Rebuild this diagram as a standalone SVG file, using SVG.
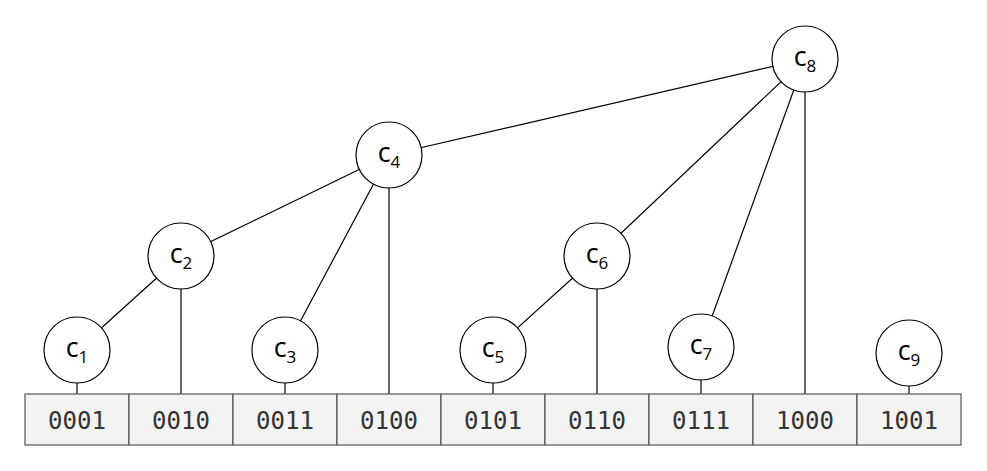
<svg xmlns="http://www.w3.org/2000/svg" width="987" height="471" viewBox="0 0 987 471">
  <style>
    .edge { stroke: #000; stroke-width: 1.2; fill: none; }
    .node circle { fill: #fff; stroke: #000; stroke-width: 1.2; }
    .node text { font-family: "Open Sans", "DejaVu Sans", sans-serif; font-size: 27px; fill: #000; text-anchor: middle; }
    .node .sub { font-size: 17px; }
    .cell rect { fill: #f3f3f3; stroke: #555; stroke-width: 1.2; }
    .cell text { font-family: "DejaVu Sans Mono", "Liberation Mono", monospace; font-size: 24px; fill: #333; text-anchor: middle; }
  </style>
  <rect width="987" height="471" fill="#fff"/>

  <!-- tree edges and links down to the array cells -->
  <g id="connectors">
    <line class="edge" x1="77" y1="350" x2="181" y2="256"/>
    <line class="edge" x1="181" y1="256" x2="389" y2="155"/>
    <line class="edge" x1="285" y1="350" x2="389" y2="155"/>
    <line class="edge" x1="389" y1="155" x2="805" y2="59"/>
    <line class="edge" x1="493" y1="350" x2="597" y2="256"/>
    <line class="edge" x1="597" y1="256" x2="805" y2="59"/>
    <line class="edge" x1="701" y1="347" x2="805" y2="59"/>
    <line class="edge" x1="77" y1="350" x2="77" y2="394"/>
    <line class="edge" x1="181" y1="256" x2="181" y2="394"/>
    <line class="edge" x1="285" y1="350" x2="285" y2="394"/>
    <line class="edge" x1="389" y1="155" x2="389" y2="394"/>
    <line class="edge" x1="493" y1="350" x2="493" y2="394"/>
    <line class="edge" x1="597" y1="256" x2="597" y2="394"/>
    <line class="edge" x1="701" y1="347" x2="701" y2="394"/>
    <line class="edge" x1="805" y1="59" x2="805" y2="394"/>
    <line class="edge" x1="909" y1="353" x2="909" y2="394"/>
  </g>

  <!-- array cells -->
  <g id="cell1" class="cell"><rect x="25" y="394" width="104" height="51"/><text x="77" y="429">0001</text></g>
  <g id="cell2" class="cell"><rect x="129" y="394" width="104" height="51"/><text x="181" y="429">0010</text></g>
  <g id="cell3" class="cell"><rect x="233" y="394" width="104" height="51"/><text x="285" y="429">0011</text></g>
  <g id="cell4" class="cell"><rect x="337" y="394" width="104" height="51"/><text x="389" y="429">0100</text></g>
  <g id="cell5" class="cell"><rect x="441" y="394" width="104" height="51"/><text x="493" y="429">0101</text></g>
  <g id="cell6" class="cell"><rect x="545" y="394" width="104" height="51"/><text x="597" y="429">0110</text></g>
  <g id="cell7" class="cell"><rect x="649" y="394" width="104" height="51"/><text x="701" y="429">0111</text></g>
  <g id="cell8" class="cell"><rect x="753" y="394" width="104" height="51"/><text x="805" y="429">1000</text></g>
  <g id="cell9" class="cell"><rect x="857" y="394" width="104" height="51"/><text x="909" y="429">1001</text></g>

  <!-- tree nodes -->
  <g id="c1" class="node"><circle cx="77" cy="350" r="33"/><text x="77" y="357">c<tspan class="sub" dy="6">1</tspan></text></g>
  <g id="c2" class="node"><circle cx="181" cy="256" r="33"/><text x="181" y="263">c<tspan class="sub" dy="6">2</tspan></text></g>
  <g id="c3" class="node"><circle cx="285" cy="350" r="33"/><text x="285" y="357">c<tspan class="sub" dy="6">3</tspan></text></g>
  <g id="c4" class="node"><circle cx="389" cy="155" r="33"/><text x="389" y="162">c<tspan class="sub" dy="6">4</tspan></text></g>
  <g id="c5" class="node"><circle cx="493" cy="350" r="33"/><text x="493" y="357">c<tspan class="sub" dy="6">5</tspan></text></g>
  <g id="c6" class="node"><circle cx="597" cy="256" r="33"/><text x="597" y="263">c<tspan class="sub" dy="6">6</tspan></text></g>
  <g id="c7" class="node"><circle cx="701" cy="347" r="33"/><text x="701" y="354">c<tspan class="sub" dy="6">7</tspan></text></g>
  <g id="c8" class="node"><circle cx="805" cy="59" r="33"/><text x="805" y="66">c<tspan class="sub" dy="6">8</tspan></text></g>
  <g id="c9" class="node"><circle cx="909" cy="353" r="33"/><text x="909" y="360">c<tspan class="sub" dy="6">9</tspan></text></g>
</svg>
